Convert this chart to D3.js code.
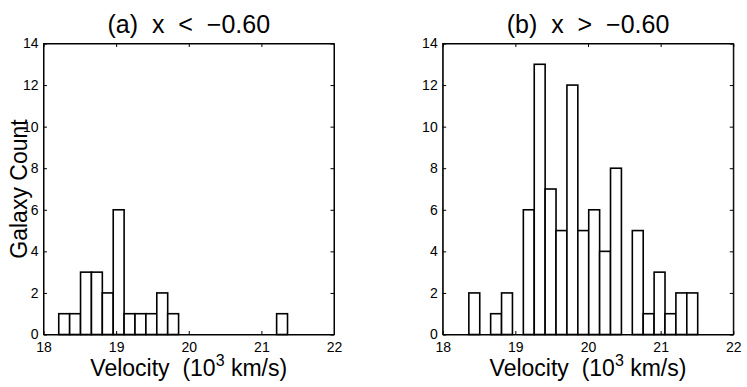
<!DOCTYPE html>
<html>
<head>
<meta charset="utf-8">
<script src="https://cdn.jsdelivr.net/npm/d3@7"></script>
<style>
  body { margin: 0; background: #fff; }
  svg { font-family: "Liberation Sans", Arial, sans-serif; }
</style>
</head>
<body>
<div class="container"></div>
<script>
// histogram counts
const leftCounts = [1, 1, 3, 3, 2, 6, 1, 1, 1, 2, 1, 0, 0, 0, 0, 0, 0, 0, 0, 0, 1]
const rightCounts = [2, 0, 1, 2, 0, 6, 13, 7, 5, 12, 5, 6, 4, 8, 0, 5, 1, 3, 1, 2, 2]
const leftStart = 18.21
const rightStart = 18.36
const binWidth = 0.15
const xTicks = [18, 19, 20, 21, 22]
const yTicks = [0, 2, 4, 6, 8, 10, 12, 14]
const titles = ["(a)  x  <  \u22120.60", "(b)  x  >  \u22120.60"]

const w = 747
const h = 387
const plotTop = 43.5
const plotBottom = 334.5
const tickLen = 3.5

const svg = d3.select(".container")
  .append("svg")
  .attr("width", w)
  .attr("height", h)

const drawPanel = (left, right, counts, start, title, showYLabel) => {
  const xScale = d3.scaleLinear().domain([18, 22]).range([left, right])
  const yScale = d3.scaleLinear().domain([0, 14]).range([plotBottom, plotTop])
  const g = svg.append("g")

  // bars
  g.selectAll("rect.bar")
    .data(counts)
    .enter()
    .append("rect")
    .attr("class", "bar")
    .attr("x", (d, i) => xScale(start + i * binWidth))
    .attr("width", (d, i) => xScale(start + (i + 1) * binWidth) - xScale(start + i * binWidth))
    .attr("y", (d) => yScale(d))
    .attr("height", (d) => yScale(0) - yScale(d))
    .attr("fill", "#fff")
    .attr("stroke", "#000")
    .attr("stroke-width", 1.6)

  // axes (ticks inward, box style)
  const fmt = d3.format("d")
  const xAxis = d3.axisBottom(xScale).tickValues(xTicks).tickFormat(fmt).tickSizeInner(-tickLen).tickSizeOuter(0).tickPadding(8)
  const xTop = d3.axisTop(xScale).tickValues(xTicks).tickSizeInner(-tickLen).tickSizeOuter(0).tickFormat("")
  const yAxis = d3.axisLeft(yScale).tickValues(yTicks).tickFormat(fmt).tickSizeInner(-tickLen).tickSizeOuter(0).tickPadding(5)
  const yRight = d3.axisRight(yScale).tickValues(yTicks).tickSizeInner(-tickLen).tickSizeOuter(0).tickFormat("")

  g.append("g").attr("transform", "translate(0," + plotBottom + ")").call(xAxis)
  g.append("g").attr("transform", "translate(0," + plotTop + ")").call(xTop)
  g.append("g").attr("transform", "translate(" + left + ",0)").call(yAxis)
  g.append("g").attr("transform", "translate(" + right + ",0)").call(yRight)

  g.selectAll(".tick text")
    .attr("font-size", 14)
    .attr("font-family", "Liberation Sans, Arial, sans-serif")
    .attr("fill", "#000")
  g.selectAll(".domain").attr("stroke", "#000")

  g.append("rect")
    .attr("x", left)
    .attr("y", plotTop)
    .attr("width", right - left)
    .attr("height", plotBottom - plotTop)
    .attr("fill", "none")
    .attr("stroke", "#000")
    .attr("stroke-width", 1)

  // title
  g.append("text")
    .attr("x", (left + right) / 2)
    .attr("y", 33)
    .attr("text-anchor", "middle")
    .attr("font-size", 25)
    .style("white-space", "pre")
    .text(title)

  // x label with superscript
  const xl = g.append("text")
    .attr("x", (left + right) / 2)
    .attr("y", 376)
    .attr("text-anchor", "middle")
    .attr("font-size", 23)
    .style("white-space", "pre")
  xl.append("tspan").text("Velocity  (10")
  xl.append("tspan").attr("dy", -10).attr("font-size", 16).text("3")
  xl.append("tspan").attr("dy", 10).text(" km/s)")

  if (showYLabel) {
    g.append("text")
      .attr("transform", "translate(27," + ((plotTop + plotBottom) / 2) + ") rotate(-90)")
      .attr("text-anchor", "middle")
      .attr("font-size", 23)
      .text("Galaxy Count")
  }
}

drawPanel(43.5, 334, leftCounts, leftStart, titles[0], true)
drawPanel(442.7, 733.3, rightCounts, rightStart, titles[1], false)
</script>
</body>
</html>
